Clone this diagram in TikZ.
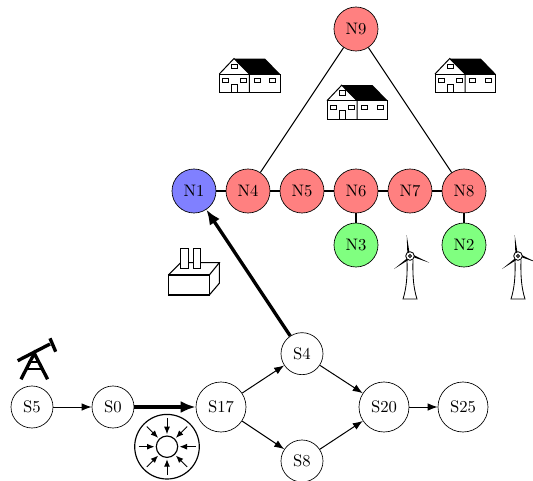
\documentclass[tikz,border=0pt]{standalone}
\usepackage{amsmath}
\usetikzlibrary{positioning,arrows.meta,calc}
\tikzset{main node/.style={circle,draw,minimum size=26.4pt,inner sep=0pt},
	bus node/.style={main node,fill=red!50},
	small node/.style={circle,draw,minimum size=25.2pt,inner sep=0pt},
	big node/.style={circle,draw,minimum size=30pt,inner sep=0pt},
	pipe/.style={-{Latex[length=6pt,width=4.5pt]},line width=0.6pt},
	heavy pipe/.style={-{Latex[length=9pt,width=7.2pt]},line width=2pt},
	line/.style={line width=0.65pt},
	pics/house/.style={code={
		\draw[line width=0.6pt] (0,-18.3) rectangle (60.7,0);
		\draw[line width=0.6pt] (0,-18.3) -- (14.7,-33.8) -- (30,-18.3) -- (30,0);
		\fill (14.7,-33.8) -- (45.7,-33.8) -- (60.7,-18.3) -- (30,-18.3) -- cycle;
		\draw[line width=0.6pt] (12.4,-28.3) rectangle (18,-23.6);
		\foreach \wx in {3,21,34.7,50} {
			\draw[line width=0.6pt] (\wx,-13.6) rectangle ++(6,4);
		}
		\draw[line width=0.6pt] (12.4,0) -- (12.4,-8.3) -- (18,-8.3) -- (18,0);
	}},
	pics/turbine/.style={code={
		\draw[line width=0.5pt] (-3,4) .. controls (-2.5,20) and (-3.5,32) .. (-7,43) -- (7,43) .. controls (3.5,32) and (2.5,20) .. (3,4);
		\foreach \tipx/\tipy in {-3.3/-21,19.3/6.7,-16/13} {
			\fill (0,0) -- (\tipx,\tipy) -- ($(0,0)!0.12!90:(\tipx,\tipy)$) -- cycle;
		}
		\draw[line width=0.5pt,fill=white] (0,0) circle (4.3);
		\draw[line width=0.5pt,fill=white] (0,0) circle (1.5);
	}},
	pics/factory/.style={code={
		\draw[line width=0.65pt] (0,0) rectangle (41,20);
		\draw[line width=0.65pt] (0,0) -- (12.4,-12.3) -- (51,-12.3) -- (41,0);
		\draw[line width=0.65pt] (51,-12.3) -- (51,8.3) -- (41,20);
		\foreach \cx in {12.4,25} {
			\draw[line width=0.65pt,fill=white] (\cx,-26.7) rectangle ++(7.6,20);
		}
	}},
	pics/pump/.style={code={
		\draw[line width=2pt] (-16.6,7.4) -- (15.7,-9.3);
		\draw[line width=2pt] (15.7,-15) -- (21.4,-1.6);
		\draw[line width=2pt] (-13.3,26) -- (0,0) -- (13.3,26);
		\draw[line width=1.3pt] (-6,8.5) -- (6,8.5);
		\draw[line width=1.3pt] (-9,16) -- (9,16);
	}},
	pics/compressor/.style={code={
		\draw[line width=0.7pt] (0,0) circle (32.3);
		\draw[line width=0.7pt] (0,0) circle (10.7);
		\foreach \ang in {0,45,...,315} {
			\draw[-{Latex[length=4.5pt,width=3.6pt]},line width=0.6pt] (\ang:28.5) -- (\ang:12.5);
		}
	}},
}

\begin{document}
\begin{tikzpicture}[x=0.6pt,y=-0.6pt,node distance = 32.4pt,on grid]
	\useasboundingbox (0,0) rectangle (533,480);
	\node[main node,fill=blue!50] (N1) at (194,191) {N1};
	\node[bus node] (N4)[right = of N1]{N4};
	\node[bus node] (N5)[right = of N4]{N5};
	\node[bus node] (N6)[right = of N5]{N6};
	\node[bus node] (N7)[right = of N6]{N7};
	\node[bus node] (N8)[right = of N7]{N8};
	\node[bus node] (N9)[above = 97.2pt of N6]{N9};
	\node[main node,fill=green!50] (N3)[below = of N6]{N3};
	\node[main node,fill=green!50] (N2)[below = of N8]{N2};

	\node[small node] (S5) at (32,407) {S5};
	\node[small node] (S0)[right = 48.6pt of S5]{S0};
	\node[big node] (S17)[right = 64.8pt of S0]{S17};
	\node[small node] (S4)[above right = 32pt and 48.6pt of S17]{S4};
	\node[small node] (S8)[below right = 32.4pt and 48.6pt of S17]{S8};
	\node[big node] (S20)[right = 97.8pt of S17]{S20};
	\node[big node] (S25)[right = 47.4pt of S20]{S25};

	\path[draw,line]
	(N1) edge (N4)
	(N4) edge (N5)
	(N5) edge (N6)
	(N6) edge (N7)
	(N7) edge (N8)
	(N6) edge (N3)
	(N8) edge (N2)
	(N9) edge (N4)
	(N9) edge (N8);

	\draw[pipe] (S5) -- (S0);
	\draw[heavy pipe] (S0) -- (S17);
	\draw[pipe] (S17) -- (S4);
	\draw[pipe] (S17) -- (S8);
	\draw[pipe] (S4) -- (S20);
	\draw[pipe] (S8) -- (S20);
	\draw[pipe] (S20) -- (S25);
	\draw[heavy pipe] (S4) -- (N1);

	\pic at (219.3,92.3) {house};
	\pic at (327,119) {house};
	\pic at (435,92.3) {house};
	\pic at (410,256) {turbine};
	\pic at (518,256) {turbine};
	\pic at (168.3,275) {factory};
	\pic at (34.3,353.3) {pump};
	\pic at (167,446.7) {compressor};
\end{tikzpicture}
\end{document}
